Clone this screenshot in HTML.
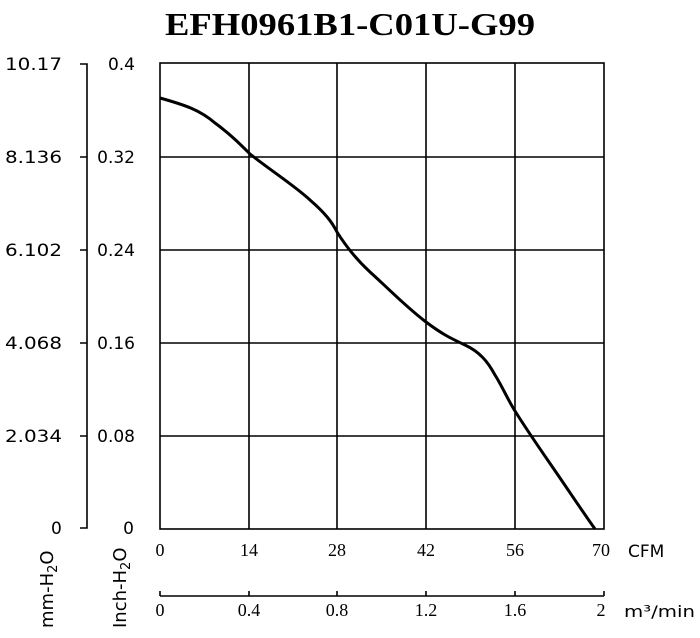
<!DOCTYPE html>
<html><head><style>body{margin:0;background:#fff}</style></head><body>
<svg width="700" height="633" xmlns="http://www.w3.org/2000/svg">
<text x="165" y="35" textLength="370" lengthAdjust="spacingAndGlyphs" font-family="Liberation Serif" font-weight="bold" font-size="32">EFH0961B1-C01U-G99</text>
<g stroke="#000" stroke-width="1.6" fill="none">
<rect x="160" y="63" width="444" height="466"/>
<path d="M160 157H604M160 250H604M160 343H604M160 436H604M249 63V529M337 63V529M426 63V529M515 63V529"/>
<path d="M80 64H87V528H80M87 157H80M87 250H80M87 343H80M87 436H80"/>
<path d="M160 596H604M160 591V596M249 591V596M337 591V596M426 591V596M515 591V596M604 591V596"/>
<path stroke-width="3" d="M160 98C185 105 200 110 215 123C230 134 240 144 250 154C270 170 295 186 310 200C325 213 332 222 337 232C347 248 357 260 370 272C390 290 405 306 426 322C442 334 450 338 465 345C480 352 488 362 495 375C502 386 508 400 515 411C530 435 545 456 560 478C575 500 585 515 595 529"/>
</g>
<g font-family="DejaVu Sans" font-size="17">
<text x="5" y="70" textLength="57" lengthAdjust="spacingAndGlyphs">10.17</text>
<text x="5" y="163" textLength="57" lengthAdjust="spacingAndGlyphs">8.136</text>
<text x="5" y="256" textLength="57" lengthAdjust="spacingAndGlyphs">6.102</text>
<text x="5" y="349" textLength="57" lengthAdjust="spacingAndGlyphs">4.068</text>
<text x="5" y="442" textLength="57" lengthAdjust="spacingAndGlyphs">2.034</text>
<text x="51" y="534">0</text>
</g>
<g font-family="DejaVu Sans" font-size="17" text-anchor="end">
<text x="135" y="70">0.4</text><text x="135" y="163">0.32</text><text x="135" y="256">0.24</text><text x="135" y="349">0.16</text><text x="135" y="442">0.08</text><text x="134" y="534">0</text>
</g>
<g font-family="Liberation Serif" font-size="18" text-anchor="middle">
<text x="160" y="556">0</text><text x="249" y="556">14</text><text x="337" y="556">28</text><text x="426" y="556">42</text><text x="515" y="556">56</text><text x="601" y="556">70</text>
<text x="160" y="616">0</text><text x="249" y="616">0.4</text><text x="337" y="616">0.8</text><text x="426" y="616">1.2</text><text x="515" y="616">1.6</text><text x="601" y="616">2</text>
</g>
<text x="628" y="557" font-family="DejaVu Sans" font-size="17">CFM</text>
<text x="624" y="617" font-family="DejaVu Sans" font-size="16" textLength="71" lengthAdjust="spacingAndGlyphs">m³/min</text>
<text transform="translate(53,628) rotate(-90)" font-family="DejaVu Sans" font-size="18">mm-H<tspan font-size="13" dy="4">2</tspan><tspan dy="-4">O</tspan></text>
<text transform="translate(126,628) rotate(-90)" font-family="DejaVu Sans" font-size="18">Inch-H<tspan font-size="13" dy="4">2</tspan><tspan dy="-4">O</tspan></text>
</svg>
</body></html>
